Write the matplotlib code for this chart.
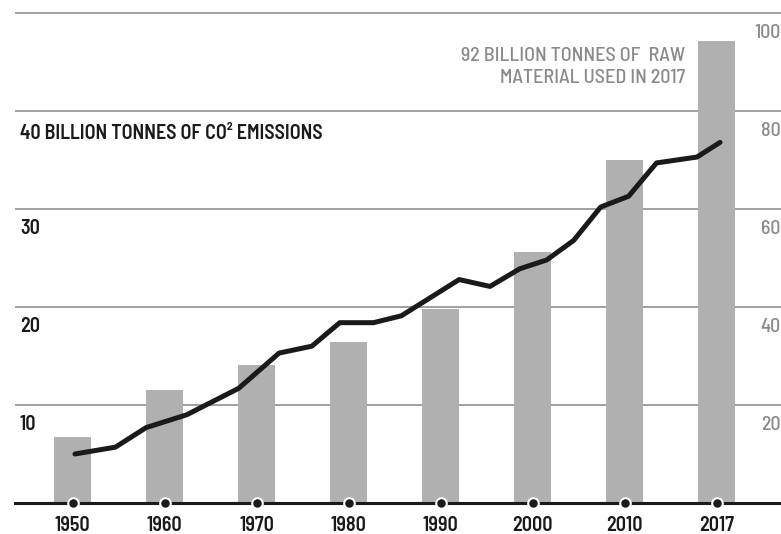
import matplotlib
matplotlib.use("Agg")
import matplotlib.pyplot as plt

plt.rcParams['font.family'] = ['Barlow Semi Condensed', 'DejaVu Sans']

# raw material used (billion tonnes, right scale)
bar_years = ['1950', '1960', '1970', '1980', '1990', '2000', '2010', '2017']
raw_material = [13.5, 23.1, 28.2, 32.9, 39.5, 51.2, 70.0, 94.3]

# CO2 emissions (billion tonnes, left scale)
co2_years = [1950, 1954.2, 1957.4, 1961.6, 1967.0, 1971.2, 1974.6, 1977.5, 1981.0, 1983.9,
             1989.9, 1993.1, 1996.2, 1999.0, 2001.8, 2004.6, 2007.5, 2010.4, 2014.6, 2017]
co2_values = [5.0, 5.7, 7.7, 9.0, 11.7, 15.3, 16.0, 18.4, 18.4, 19.1,
              22.8, 22.1, 23.9, 24.8, 26.8, 30.2, 31.3, 34.7, 35.3, 36.8]

left_ticks = [10, 20, 30]
right_ticks = [20, 40, 60, 80, 100]

W, H = 781, 534
BLACK = '#1a1a1a'
GRAY_TXT = '#8a8a8a'
FS = 14.4

fig = plt.figure(figsize=(W / 100, H / 100), dpi=100)
ax = fig.add_axes([15 / W, (H - 503) / H, (W - 15) / W, 500 / H])
axr = ax.twinx()
axl = ax.twiny()

ax.set_xlim(-0.627, 7.699)
ax.set_ylim(0, 51.02)
axr.set_ylim(0, 102.04)
axl.set_xlim(1943.77, 2023.33)

axr.set_zorder(1)
ax.set_zorder(2)
axl.set_zorder(3)
for a in (ax, axr, axl):
    a.patch.set_visible(False)
    for s in a.spines.values():
        s.set_visible(False)
    a.set_xticks([])
    a.set_yticks([])

pos = list(range(len(bar_years)))

# gridlines + bars (right scale)
for v in right_ticks:
    axr.axhline(v, color='#a0a0a0', lw=1.4, zorder=0)
axr.bar(pos, raw_material, width=0.4, color='#b0b0b0', zorder=2)

# emissions line
axl.plot(co2_years, co2_values, color=BLACK, lw=3.6,
         solid_capstyle='round', solid_joinstyle='round')

# baseline with dots
ax.axhline(0, color=BLACK, lw=2.2, clip_on=False)
ax.plot(pos, [0] * len(pos), 'o', ms=7.6, mfc=BLACK, mec='white', mew=1.5,
        clip_on=False, zorder=5)

for p, lab in zip(pos, bar_years):
    ax.annotate(lab, (p, 0), xytext=(0, -20.5), textcoords='offset points',
                ha='center', va='baseline', fontsize=FS, fontweight=600,
                color=BLACK, annotation_clip=False)

# left labels
for v in left_ticks:
    ax.annotate(str(v), (5 / 766, v), xycoords=ax.get_yaxis_transform(),
                xytext=(0, -18), textcoords='offset points',
                ha='left', va='baseline', fontsize=FS, fontweight=600, color=BLACK)
ax.annotate('40 BILLION TONNES OF CO\u00b2 EMISSIONS', (5 / 766, 40),
            xycoords=ax.get_yaxis_transform(), xytext=(0, -20),
            textcoords='offset points', ha='left', va='baseline',
            fontsize=FS, fontweight=600, color=BLACK)

# right labels
for v in right_ticks:
    axr.annotate(str(v), (0.999, v), xycoords=axr.get_yaxis_transform(),
                 xytext=(0, -18), textcoords='offset points',
                 ha='right', va='baseline', fontsize=FS, fontweight=500, color=GRAY_TXT)

fig.text(685 / W, 1 - 61 / H, '92 BILLION TONNES OF  RAW', ha='right', va='baseline',
         fontsize=FS, fontweight=500, color=GRAY_TXT)
fig.text(685 / W, 1 - 83 / H, 'MATERIAL USED IN 2017', ha='right', va='baseline',
         fontsize=FS, fontweight=500, color=GRAY_TXT)

fig.savefig('out.png', dpi=100, facecolor='white')
